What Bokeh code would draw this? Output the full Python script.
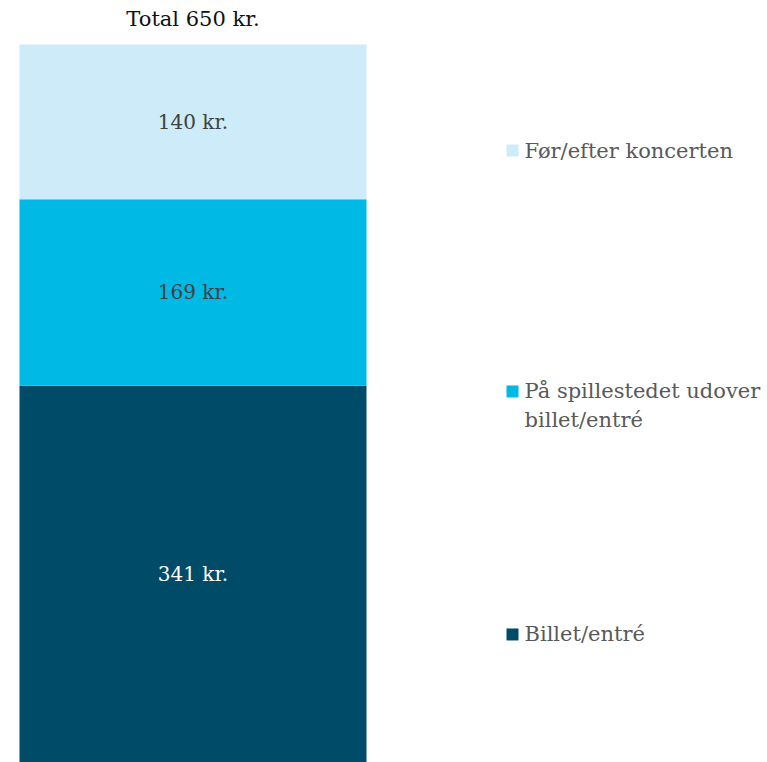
from bokeh.plotting import figure
from bokeh.models import Range1d, ColumnDataSource
from bokeh.core.properties import value
from bokeh.embed import file_html
from bokeh.resources import INLINE
import numpy as np

categories = ["Billet/entré", "På spillestedet udover\nbillet/entré", "Før/efter koncerten"]
values = [341, 169, 140]
labels = ["341 kr.", "169 kr.", "140 kr."]
total_label = "Total 650 kr."
colors = ["#004B68", "#00B9E4", "#CDEBF8"]
label_colors = ["#FFFFFF", "#404040", "#404040"]

FONT = value("DejaVu Serif")
W, H = 767, 762
scale = 718 / 650.0  # px per unit
y_end = H / scale

p = figure(width=W, height=H, output_backend="svg", toolbar_location=None,
           x_range=Range1d(0, W), y_range=Range1d(0, y_end),
           min_border=0, outline_line_color=None)
p.axis.visible = False
p.grid.visible = False
p.background_fill_color = "white"
p.border_fill_color = "white"

tops = np.cumsum(values)
bottoms = tops - np.array(values)
bar_x = 192.5
src = ColumnDataSource(dict(x=[bar_x] * 3, top=tops, bottom=bottoms, color=colors,
                            mid=(tops + bottoms) / 2, label=labels, lc=label_colors))
p.vbar(x="x", top="top", bottom="bottom", width=347, color="color", line_color=None, source=src)
p.text(x="x", y="mid", text="label", text_color="lc", text_font=FONT, text_font_size="20px",
       text_align="center", text_baseline="middle", source=src)

p.text(x=[bar_x], y=[tops[-1] + 23], text=[total_label], text_color="#111111", text_font=FONT,
       text_font_size="21px", text_align="center", text_baseline="middle")

# legend (manual)
leg_y = [115.9, 335.9, 554.0]
sq_x = 512
txt_x = 524
p.scatter(x=[sq_x] * 3, y=leg_y, marker="square", size=12, color=colors, line_color=None)
for cat, yy in zip(categories, leg_y):
    lines = cat.split("\n")
    for i, ln in enumerate(lines):
        p.text(x=[txt_x], y=[yy - i * 25.4], text=[ln], text_color="#595959", text_font=FONT,
               text_font_size="21px", text_align="left", text_baseline="middle")

open("out.html", "w").write(file_html(p, INLINE))
